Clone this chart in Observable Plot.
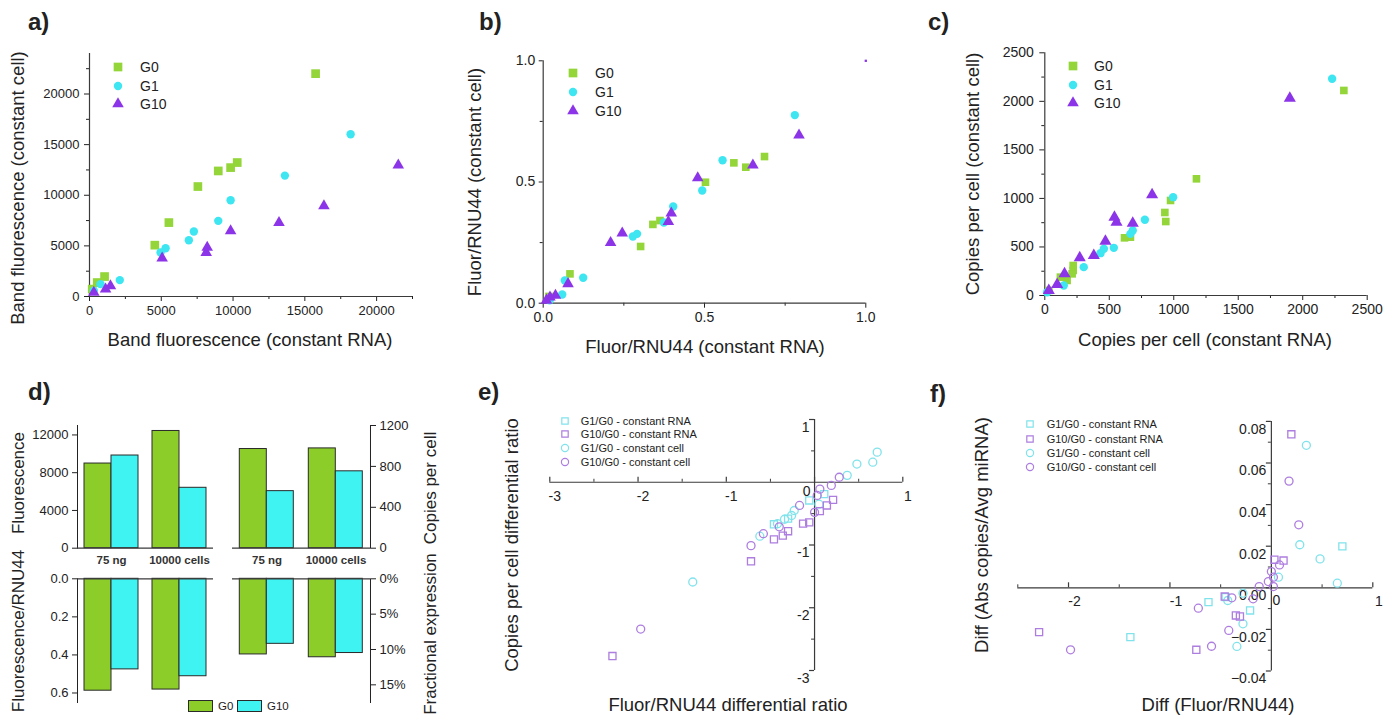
<!DOCTYPE html>
<html><head><meta charset="utf-8">
<script src="https://cdn.jsdelivr.net/npm/d3@7"></script>
<script src="https://cdn.jsdelivr.net/npm/@observablehq/plot@0.6"></script>
<style>
body{margin:0;background:#fff;}
#fig{position:relative;width:1398px;height:717px;overflow:hidden;font-family:"Liberation Sans",Arial,sans-serif;color:#222;background:#fff;}
.letter{position:absolute;font-weight:bold;font-size:24px;line-height:1;}
.title{position:absolute;white-space:nowrap;font-size:18.5px;line-height:1;transform:translate(-50%,-50%);}
.vtitle{position:absolute;white-space:nowrap;font-size:18.5px;line-height:1;transform:translate(-50%,-50%) rotate(-90deg);}
.legtext{position:absolute;white-space:nowrap;line-height:1;transform:translateY(-50%);}
</style>
</head><body><div id="fig"></div>
<script>
// ---------- data ----------
// panel a: band fluorescence, [constant RNA, constant cell]
const aG0 = [[15750,22010],[10290,13230],[9830,12730],[8970,12400],[7550,10860],[5530,7300],[4550,5070],[1050,1970],[540,1380],[190,730]];
const aG1 = [[18190,16020],[13610,11940],[9830,9510],[8970,7470],[7270,6420],[6920,5560],[5300,4770],[4950,4340],[2110,1620],[770,1220],[300,560]];
const aG10 = [[21510,12960],[16330,8950],[13200,7300],[9830,6480],[8200,4840],[8130,4340],[5060,3780],[1460,1050],[1120,730],[300,400]];
// panel b: Fluor/RNU44
const bG0 = [[0.083,0.121],[0.302,0.234],[0.340,0.325],[0.362,0.341],[0.503,0.499],[0.591,0.579],[0.628,0.561],[0.686,0.605],[0.018,0.028]];
const bG1 = [[0.780,0.776],[0.556,0.590],[0.493,0.465],[0.403,0.399],[0.374,0.333],[0.291,0.286],[0.278,0.275],[0.124,0.105],[0.067,0.094],[0.059,0.036],[0.02,0.012]];
const bG10 = [[0.793,0.693],[0.650,0.569],[0.479,0.517],[0.397,0.371],[0.388,0.336],[0.245,0.289],[0.209,0.250],[0.077,0.080],[0.038,0.032],[0.021,0.025],[0.01,0.012]];
const bCorner = [[1.0,1.0]];
// panel c: copies per cell
const cG0 = [[2319,2112],[1176,1202],[975,979],[931,855],[938,762],[664,601],[618,594],[220,309],[220,258],[212,223],[173,155],[121,189],[31,52]];
const cG1 = [[2228,2232],[995,1013],[776,780],[682,670],[664,635],[535,491],[458,481],[432,436],[302,292],[147,103],[18,34]];
const cG10 = [[1900,2033],[832,1037],[540,807],[556,755],[682,745],[470,560],[380,412],[271,388],[153,223],[96,113],[31,52]];
// panel d
const dCats = ["75 ng", "10000 cells"];
const dGroups = ["G0", "G10"];
const dFluorG0 = [8970, 12420], dFluorG10 = [9820, 6400];
const dCopiesG0 = [970, 976], dCopiesG10 = [558, 752];
const dRatioG0 = [0.588, 0.582], dRatioG10 = [0.476, 0.512];
const dFracG0 = [0.107, 0.111], dFracG10 = [0.092, 0.105];
// panel e: differential ratios [Fluor/RNU44, copies per cell]
const eG1rna = [[-0.06,-0.29],[-0.30,-0.58],[-0.46,-0.67],[0.11,-0.19]];
const eG10rna = [[0.21,-0.28],[0.14,-0.37],[0.06,-0.46],[-0.06,-0.64],[-0.13,-0.66],[-0.30,-0.78],[-0.36,-0.85],[-0.46,-0.91],[-0.72,-1.26],[-2.29,-2.77]];
const eG1cell = [[0.71,0.48],[0.66,0.32],[0.48,0.29],[0.37,0.11],[-0.23,-0.45],[-0.26,-0.53],[-0.34,-0.59],[-0.42,-0.66],[-0.62,-0.86],[-1.38,-1.59],[0.05,-0.35]];
const eG10cell = [[0.28,0.08],[0.19,-0.05],[0.06,-0.11],[0.03,-0.21],[0.0,-0.48],[-0.17,-0.37],[-0.40,-0.71],[-0.58,-0.82],[-0.72,-1.01],[-1.97,-2.34]];
// panel f: differences
const fG1rna = [[0.70,0.0199],[-0.62,-0.0069],[-0.21,-0.0109],[-1.39,-0.0237],[-0.45,-0.0045]];
const fG10rna = [[0.197,0.0738],[0.03,0.0135],[0.12,0.0131],[-0.46,-0.0042],[-0.35,-0.0133],[-0.31,-0.0138],[-0.74,-0.0298],[-2.29,-0.0213]];
const fG1cell = [[0.345,0.0685],[0.28,0.0207],[0.48,0.0139],[0.65,0.0022],[0.07,0.0051],[-0.43,-0.0061],[-0.28,-0.0026],[-0.28,-0.0173],[-0.34,-0.0282]];
const fG10cell = [[0.174,0.0513],[0.27,0.0303],[0.08,0.011],[0.0,0.0078],[0.02,0.0051],[-0.03,0.003],[0.02,0.0006],[-0.12,0.0006],[-0.18,-0.0053],[-0.39,-0.0048],[-0.72,-0.0098],[-0.42,-0.0205],[-0.59,-0.0281],[-1.98,-0.0298]];
// ticks
const aTicks = [0,5000,10000,15000,20000], aMinor = [2500,7500,12500,17500,22500];
const bTicks = [0,0.5,1], bMinor = [0.25,0.75];
const cTicks = [0,500,1000,1500,2000,2500], cMinor = [250,750,1250,1750,2250];
const dFluorTicks = [0,4000,8000,12000], dCopiesTicks = [0,400,800,1200];
const dRatioTicks = [0,0.2,0.4,0.6], dFracTicks = [0,0.05,0.1,0.15];
const eXMajor = [-3,-2,-1,0,1], eXMinor = [-2.5,-1.5,-0.5,0.5], eYMajor = [1,-1,-2,-3], eYMinor = [0.5,-0.5,-1.5,-2.5];
const fXMajor = [-2,-1,0,1], fXMinor = [-2.5,-1.5,-0.5,0.5], fYMajor = [0.08,0.06,0.04,0.02,0,-0.02,-0.04], fYMinor = [0.07,0.05,0.03,0.01,-0.01,-0.03];

// ---------- styles ----------
const C = {G0: "#94d53a", G1: "#3ee6f2", G10: "#8c35e8"};
const H = {cyan: "#80e3eb", purple: "#ad7ddf"};
const BAR = {G0: "#8ccd2a", G10: "#3ff3f3"};
const AX = "#3a3a3a";
const FONT = "Liberation Sans, Arial, sans-serif";
const style = {fontFamily: FONT, fontSize: "13px", color: "#222", background: "transparent", overflow: "visible"};
const fig = document.getElementById("fig");
function place(node, left, top) {
  node.style.position = "absolute"; node.style.left = left + "px"; node.style.top = top + "px";
  fig.appendChild(node);
}
function html(cls, text, x, y, extra) {
  const d = document.createElement("div");
  d.className = cls; d.textContent = text;
  d.style.left = x + "px"; d.style.top = y + "px";
  if (extra) Object.assign(d.style, extra);
  fig.appendChild(d);
}
const SYM = {square: d3.symbolSquare, circle: d3.symbolCircle, triangle: d3.symbolTriangle};
function legendItem(x, y, shape, r, color, hollow, label, tx, fs) {
  const p = d3.symbol(SYM[shape], Math.PI * r * r)();
  const ns = "http://www.w3.org/2000/svg";
  const svg = document.createElementNS(ns, "svg");
  svg.setAttribute("width", 20); svg.setAttribute("height", 20);
  svg.style.position = "absolute"; svg.style.left = (x - 10) + "px"; svg.style.top = (y - 10) + "px";
  const path = document.createElementNS(ns, "path");
  path.setAttribute("d", p); path.setAttribute("transform", "translate(10,10)");
  if (hollow) { path.setAttribute("fill", "none"); path.setAttribute("stroke", color); path.setAttribute("stroke-width", 1.2); }
  else path.setAttribute("fill", color);
  svg.appendChild(path); fig.appendChild(svg);
  html("legtext", label, tx, y, {fontSize: fs + "px"});
}
const px = d => d[0], py = d => d[1];

// ---------- panel a ----------
place(Plot.plot({
  width: 440, height: 360, marginLeft: 89, marginRight: 28, marginTop: 53, marginBottom: 64,
  x: {domain: [0, 22500]}, y: {domain: [0, 24000]}, style,
  marks: [
    Plot.axisX({ticks: aTicks, tickSize: 5, tickPadding: 4, tickFormat: d3.format("d"), fontSize: 13, label: null}),
    Plot.axisX({ticks: aMinor, tickSize: 3, tickFormat: () => "", label: null}),
    Plot.axisY({ticks: aTicks, tickSize: 5, tickPadding: 5, tickFormat: d3.format("d"), fontSize: 13, label: null}),
    Plot.axisY({ticks: aMinor, tickSize: 3, tickFormat: () => "", label: null}),
    Plot.ruleX([0], {stroke: AX, strokeWidth: 1.2}),
    Plot.ruleY([0], {stroke: AX, strokeWidth: 1.2}),
    Plot.dot(aG0, {x: px, y: py, symbol: "square", r: 4.9, fill: C.G0}),
    Plot.dot(aG1, {x: px, y: py, symbol: "circle", r: 4.2, fill: C.G1}),
    Plot.dot(aG10, {x: px, y: py, symbol: "triangle", r: 4.3, fill: C.G10})
  ]
}), 0, 0);

// ---------- panel b ----------
place(Plot.plot({
  width: 440, height: 360, marginLeft: 82.7, marginRight: 34.7, marginTop: 60.3, marginBottom: 57.3,
  x: {domain: [0, 1]}, y: {domain: [0, 1]}, style,
  marks: [
    Plot.axisX({ticks: bTicks, tickSize: 5, tickPadding: 4, tickFormat: d3.format(".1f"), fontSize: 14, label: null}),
    Plot.axisX({ticks: bMinor, tickSize: 3, tickFormat: () => "", label: null}),
    Plot.axisY({ticks: bTicks, tickSize: 4, tickPadding: 4, tickFormat: d3.format(".1f"), fontSize: 14, label: null}),
    Plot.axisY({ticks: bMinor, tickSize: 3, tickFormat: () => "", label: null}),
    Plot.ruleX([0], {stroke: AX, strokeWidth: 1.2}),
    Plot.ruleY([0], {stroke: AX, strokeWidth: 1.2}),
    Plot.dot(bG0, {x: px, y: py, symbol: "square", r: 4.3, fill: C.G0}),
    Plot.dot(bG1, {x: px, y: py, symbol: "circle", r: 4.2, fill: C.G1}),
    Plot.dot(bG10, {x: px, y: py, symbol: "triangle", r: 4.3, fill: C.G10}),
    Plot.dot(bCorner, {x: px, y: py, symbol: "square", r: 1.3, fill: C.G10})
  ]
}), 460, 0);

// ---------- panel c ----------
place(Plot.plot({
  width: 468, height: 360, marginLeft: 114.3, marginRight: 31.3, marginTop: 52.3, marginBottom: 65,
  x: {domain: [0, 2500]}, y: {domain: [0, 2500]}, style,
  marks: [
    Plot.axisX({ticks: cTicks, tickSize: 5, tickPadding: 4, tickFormat: d3.format("d"), fontSize: 14, label: null}),
    Plot.axisX({ticks: cMinor, tickSize: 3, tickFormat: () => "", label: null}),
    Plot.axisY({ticks: cTicks, tickSize: 5, tickPadding: 6, tickFormat: d3.format("d"), fontSize: 14, label: null}),
    Plot.axisY({ticks: cMinor, tickSize: 3, tickFormat: () => "", label: null}),
    Plot.ruleX([0], {stroke: AX, strokeWidth: 1.2}),
    Plot.ruleY([0], {stroke: AX, strokeWidth: 1.2}),
    Plot.dot(cG0, {x: px, y: py, symbol: "square", r: 4.3, fill: C.G0}),
    Plot.dot(cG1, {x: px, y: py, symbol: "circle", r: 4.2, fill: C.G1}),
    Plot.dot(cG10, {x: px, y: py, symbol: "triangle", r: 4.5, fill: C.G10})
  ]
}), 930, 0);

// ---------- panel d ----------
function dRows(g0, g10) {
  return dCats.flatMap((c, i) => [{cat: c, g: "G0", v: g0[i]}, {cat: c, g: "G10", v: g10[i]}]);
}
function dPlot({rows, side, domain, ticks, fmt, reverse, top, cats}) {
  const left = side === "left";
  return Plot.plot({
    width: 225, height: top ? 165 : 147,
    marginLeft: left ? 77 : 6.7, marginRight: left ? 12 : 80,
    marginTop: top ? 15 : 8.3, marginBottom: top ? 27.3 : 15,
    fx: {domain: dCats, padding: 0},
    x: {domain: dGroups, paddingInner: 0, paddingOuter: 0.242, axis: null},
    y: {domain, reverse, ticks, tickFormat: fmt, tickSize: 5, tickPadding: 4, line: true, label: null, axis: left ? "left" : "right"},
    color: {domain: dGroups, range: [BAR.G0, BAR.G10]},
    style,
    marks: [
      Plot.barY(rows, {fx: "cat", x: "g", y: "v", fill: "g", stroke: "#2a2a2a", strokeWidth: 1}),
      Plot.ruleY([0], {stroke: AX, strokeWidth: 1.2}),
      Plot.axisFx(cats ? {anchor: "bottom", tickSize: 0, tickPadding: 8, fontSize: 11.5, fontWeight: "bold", fill: "#333", label: null}
                       : {anchor: "bottom", tickSize: 0, tickFormat: () => "", label: null})
    ]
  });
}
place(dPlot({rows: dRows(dFluorG0, dFluorG10), side: "left", domain: [0, 13000], ticks: dFluorTicks, fmt: d3.format("d"), reverse: false, top: true, cats: true}), 0, 410);
place(dPlot({rows: dRows(dCopiesG0, dCopiesG10), side: "right", domain: [0, 1200], ticks: dCopiesTicks, fmt: d3.format("d"), reverse: false, top: true, cats: true}), 225, 410);
place(dPlot({rows: dRows(dRatioG0, dRatioG10), side: "left", domain: [0, 0.65], ticks: dRatioTicks, fmt: d3.format(".1f"), reverse: true, top: false, cats: false}), 0, 570);
place(dPlot({rows: dRows(dFracG0, dFracG10), side: "right", domain: [0, 0.175], ticks: dFracTicks, fmt: d3.format(".0%"), reverse: true, top: false, cats: false}), 225, 570);

// ---------- panels e, f (axes crossing at origin) ----------
function crossPlot({w, ml, mr, mt, mb, xd, yd, xMaj, xMin, yMaj, yMin, yFmt, series, xLabDx, zeroDx, zeroDy}) {
  return Plot.plot({
    width: w, height: 337, marginLeft: ml, marginRight: mr, marginTop: mt, marginBottom: mb,
    x: {domain: xd, axis: null}, y: {domain: yd, axis: null}, style,
    marks: [
      Plot.ruleY([0], {stroke: AX, strokeWidth: 1.2}),
      Plot.ruleX([0], {stroke: AX, strokeWidth: 1.2}),
      Plot.ruleX(xMaj, {x: d => d, y1: 0, y2: 0, insetTop: -5, stroke: AX, strokeWidth: 1.2}),
      Plot.ruleX(xMin, {x: d => d, y1: 0, y2: 0, insetTop: -3, stroke: AX}),
      Plot.ruleY(yMaj, {y: d => d, x1: 0, x2: 0, insetLeft: -5, stroke: AX, strokeWidth: 1.2}),
      Plot.ruleY(yMin, {y: d => d, x1: 0, x2: 0, insetLeft: -3, stroke: AX}),
      Plot.text(xMaj.filter(d => d !== 0), {x: d => d, y: 0, text: d => String(d), dx: xLabDx, dy: 14, fontSize: 14}),
      Plot.text([0], {x: d => d, y: 0, text: d => String(d), dx: zeroDx, dy: zeroDy, fontSize: 14}),
      Plot.text(yMaj, {x: 0, y: d => d, text: yFmt, textAnchor: "end", dx: -5, dy: 8, fontSize: 14}),
      ...series.map(s => Plot.dot(s.data, {x: px, y: py, symbol: s.shape, r: 4, stroke: s.color, strokeWidth: 1.3, fill: "none"}))
    ]
  });
}
place(crossPlot({w: 470, ml: 89.3, mr: 27.7, mt: 39, mb: 47, xd: [-3, 1], yd: [-3, 1],
  xMaj: eXMajor, xMin: eXMinor, yMaj: eYMajor, yMin: eYMinor, yFmt: d => String(d), xLabDx: 5, zeroDx: -8, zeroDy: 9,
  series: [
    {data: eG1rna, shape: "square", color: H.cyan},
    {data: eG1cell, shape: "circle", color: H.cyan},
    {data: eG10rna, shape: "square", color: H.purple},
    {data: eG10cell, shape: "circle", color: H.purple}
  ]}), 460, 380);
place(crossPlot({w: 468, ml: 87.3, mr: 25.7, mt: 40.9, mb: 46.5, xd: [-2.5, 1], yd: [-0.04, 0.08],
  xMaj: fXMajor, xMin: fXMinor, yMaj: fYMajor, yMin: fYMinor, yFmt: d3.format(".2f"), xLabDx: 6, zeroDx: 5, zeroDy: 13,
  series: [
    {data: fG1rna, shape: "square", color: H.cyan},
    {data: fG1cell, shape: "circle", color: H.cyan},
    {data: fG10rna, shape: "square", color: H.purple},
    {data: fG10cell, shape: "circle", color: H.purple}
  ]}), 930, 380);

// ---------- titles, letters, legends ----------
html("letter", "a)", 28, 10); html("letter", "b)", 479, 10); html("letter", "c)", 928, 10);
html("letter", "d)", 28, 380); html("letter", "e)", 478, 380); html("letter", "f)", 930, 382);
html("title", "Band fluorescence (constant RNA)", 250, 340);
html("vtitle", "Band fluorescence (constant cell)", 18, 188);
html("title", "Fluor/RNU44 (constant RNA)", 705, 347);
html("vtitle", "Fluor/RNU44 (constant cell)", 475, 182);
html("title", "Copies per cell (constant RNA)", 1205, 340);
html("vtitle", "Copies per cell (constant cell)", 973, 174);
html("vtitle", "Fluorescence", 18, 483, {fontSize: "17px"});
html("vtitle", "Fluorescence/RNU44", 18, 631, {fontSize: "17px"});
html("vtitle", "Copies per cell", 430, 488, {fontSize: "17px"});
html("vtitle", "Fractional expression", 430, 634, {fontSize: "17px"});
html("title", "Fluor/RNU44 differential ratio", 728, 705);
html("vtitle", "Copies per cell differential ratio", 512, 545);
html("title", "Diff (Fluor/RNU44)", 1218, 705);
html("vtitle", "Diff (Abs copies/Avg miRNA)", 982, 535);

const legABC = [["G0", "square", 4.9, C.G0], ["G1", "circle", 4.2, C.G1], ["G10", "triangle", 4.3, C.G10]];
[[118, [67, 86, 104], 140], [573, [73, 92, 111], 595], [1073, [66, 85, 103], 1094]].forEach(([mx, rows, tx]) => {
  legABC.forEach(([lab, sh, r, col], i) => legendItem(mx, rows[i], sh, r, col, false, lab, tx, 14));
});
const legEF = [["G1/G0 - constant RNA", "square", H.cyan], ["G10/G0 - constant RNA", "square", H.purple],
               ["G1/G0 - constant cell", "circle", H.cyan], ["G10/G0 - constant cell", "circle", H.purple]];
[[565, [420.7, 434, 448.3, 462.3], 580.7], [1030, [424.3, 439, 453.3, 467.3], 1046.7]].forEach(([mx, rows, tx]) => {
  legEF.forEach(([lab, sh, col], i) => legendItem(mx, rows[i], sh, 3.6, col, true, lab, tx, 11));
});
// panel d legend (swatches)
dGroups.forEach((g, i) => {
  const sw = document.createElement("div");
  Object.assign(sw.style, {position: "absolute", left: (188 + i * 49) + "px", top: "700px", width: "25px", height: "12px",
    background: BAR[g], border: "1px solid #2a2a2a", boxSizing: "border-box"});
  fig.appendChild(sw);
  html("legtext", g, 218 + i * 49, 706.5, {fontSize: "11.5px"});
});
</script>
</body></html>
